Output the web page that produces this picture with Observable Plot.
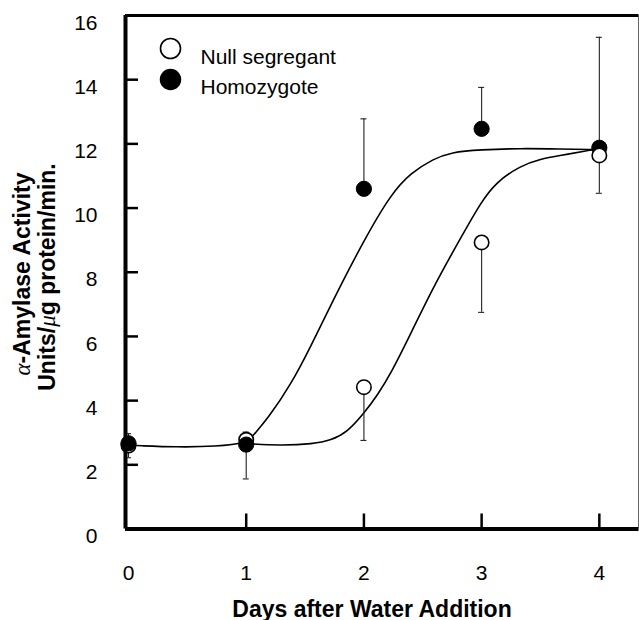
<!DOCTYPE html>
<html><head><meta charset="utf-8">
<script src="https://cdn.jsdelivr.net/npm/d3@7"></script>
<script src="https://cdn.jsdelivr.net/npm/@observablehq/plot@0.6"></script>
<style>
body{margin:0;background:#fff}
#chart{position:relative;width:639px;height:620px}
</style>
</head><body><div id="chart"></div>
<script>
// ---- data ----
const days = [0, 1, 2, 3, 4];
const nullMean   = [2.60, 2.78, 4.42, 8.93, 11.64];
const nullErrEnd = [2.22, 3.02, 2.76, 6.75, 10.46];
const homoMean   = [2.67, 2.63, 10.60, 12.47, 11.88];
const homoErrEnd = [2.97, 1.56, 12.78, 13.76, 15.32];

const homoCurveDay = [0.06, 0.42, 0.74, 1.01, 1.06, 1.18, 1.38, 1.55, 1.72, 2.00, 2.23, 2.40, 2.59, 2.74, 2.99, 3.33, 3.67, 3.96];
const homoCurveVal = [2.60, 2.55, 2.57, 2.68, 2.93, 3.42, 4.50, 5.70, 7.00, 9.00, 10.44, 11.10, 11.53, 11.74, 11.82, 11.86, 11.84, 11.82];
const nullCurveDay = [1.01, 1.29, 1.57, 1.72, 1.86, 2.00, 2.12, 2.23, 2.40, 2.59, 2.85, 2.99, 3.12, 3.33, 3.50, 3.67, 3.90, 3.96];
const nullCurveVal = [2.66, 2.60, 2.65, 2.76, 3.02, 3.60, 4.20, 4.85, 6.10, 7.55, 9.25, 10.15, 10.80, 11.32, 11.53, 11.64, 11.79, 11.82];

const xTicks = [0, 1, 2, 3, 4];
const yTicks = [0, 2, 4, 6, 8, 10, 12, 14, 16];
const yInnerTicks = [2, 4, 6, 8, 10, 12, 14];
const xInnerTicks = [1, 2, 3, 4];
const seriesNames = ["Null segregant", "Homozygote"];
const xTitle = "Days after Water Addition";
const yTitle1 = ["α", "-Amylase Activity"];
const yTitle2 = ["Units/", "μ", "g protein/min."];

// ---- build tables ----
const nullPts = days.map((d, i) => ({day: d, mean: nullMean[i], err: nullErrEnd[i]}));
const homoPts = days.map((d, i) => ({day: d, mean: homoMean[i], err: homoErrEnd[i]}));
const homoCurve = homoCurveDay.map((d, i) => ({day: d, v: homoCurveVal[i]}));
const nullCurve = nullCurveDay.map((d, i) => ({day: d, v: nullCurveVal[i]}));
const allPts = nullPts.concat(homoPts);

const W = 639, H = 620, ML = 125, MR = 0.5, MT = 15, MB = 91.5;
const plotW = W - ML - MR, plotH = H - MT - MB;
const FONT = "'Liberation Sans', Arial, Helvetica, sans-serif";
const fmt = d3.format("d");

const chart = Plot.plot({
  width: W, height: H,
  marginLeft: ML, marginRight: MR, marginTop: MT, marginBottom: MB,
  style: {fontFamily: FONT, fontSize: "21px", color: "#000", background: "#fff"},
  x: {domain: [-0.0255, 4.337]},
  y: {domain: [0, 16]},
  marks: [
    Plot.axisX({ticks: xTicks, tickFormat: fmt, tickSize: 0, tickPadding: 36, label: null, fontSize: 21}),
    Plot.axisY({ticks: yTicks, tickFormat: fmt, tickSize: 0, tickPadding: 28, dy: 7.5, label: null, fontSize: 21}),
    // inward ticks
    Plot.tickY(yInnerTicks, {y: d => d, insetRight: plotW - 13, stroke: "#000", strokeWidth: 2.5}),
    Plot.tickX(xInnerTicks, {x: d => d, insetTop: plotH - 15, stroke: "#000", strokeWidth: 2.5}),
    // fitted curves
    Plot.line(homoCurve, {x: "day", y: "v", curve: "basis", stroke: "#000", strokeWidth: 1.6}),
    Plot.line(nullCurve, {x: "day", y: "v", curve: "basis", stroke: "#000", strokeWidth: 1.6}),
    // error bars
    Plot.ruleX(allPts, {x: "day", y1: "mean", y2: "err", stroke: "#222", strokeWidth: 1.1}),
    Plot.ruleY(allPts, {y: "err", x1: "day", x2: "day", insetLeft: -3, insetRight: -3, stroke: "#222", strokeWidth: 1.1}),
    // points
    Plot.dot(nullPts.filter(d => d.day < 4), {x: "day", y: "mean", r: 7.2, fill: "#fff", stroke: "#000", strokeWidth: 1.6}),
    Plot.dot(homoPts, {x: "day", y: "mean", r: 7.6, fill: "#000", stroke: "#000", strokeWidth: 1}),
    Plot.dot(nullPts.filter(d => d.day === 4), {x: "day", y: "mean", r: 7.2, fill: "#fff", stroke: "#000", strokeWidth: 1.6}),
    // frame
    Plot.ruleX([-0.0255], {stroke: "#000", strokeWidth: 4}),
    Plot.ruleY([0], {stroke: "#000", strokeWidth: 4}),
    Plot.ruleY([16], {stroke: "#000", strokeWidth: 3}),
    Plot.ruleX([4.337], {stroke: "#333", strokeWidth: 1.5}),
    // legend
    Plot.dot([seriesNames[0]], {frameAnchor: "top-left", dx: 45, dy: 33, r: 10, fill: "#fff", stroke: "#000", strokeWidth: 1.6}),
    Plot.dot([seriesNames[1]], {frameAnchor: "top-left", dx: 45, dy: 64, r: 10, fill: "#000", stroke: "#000"}),
    Plot.text([seriesNames[0]], {text: d => d, frameAnchor: "top-left", dx: 75, dy: 34, textAnchor: "start", fontSize: 21, fill: "#000"}),
    Plot.text([seriesNames[1]], {text: d => d, frameAnchor: "top-left", dx: 75, dy: 64, textAnchor: "start", fontSize: 21, fill: "#000"})
  ]
});
document.getElementById("chart").appendChild(chart);

// axis titles
const svg = d3.select(chart);
svg.append("text")
  .attr("x", 372).attr("y", 616.5)
  .attr("text-anchor", "middle")
  .attr("font-family", FONT).attr("font-weight", "bold").attr("font-size", 23)
  .attr("fill", "#000")
  .text(xTitle);

const t1 = svg.append("text")
  .attr("transform", "translate(30,274) rotate(-90)")
  .attr("text-anchor", "middle")
  .attr("font-family", FONT).attr("font-weight", "bold").attr("font-size", 23).attr("fill", "#000");
t1.append("tspan").attr("font-family", "'Liberation Serif', 'DejaVu Serif', serif").attr("font-weight", "normal").attr("font-style", "italic").text(yTitle1[0]);
t1.append("tspan").text(yTitle1[1]);

const t2 = svg.append("text")
  .attr("transform", "translate(55,277) rotate(-90)")
  .attr("text-anchor", "middle")
  .attr("font-family", FONT).attr("font-weight", "bold").attr("font-size", 23).attr("fill", "#000");
t2.append("tspan").text(yTitle2[0]);
t2.append("tspan").attr("font-family", "'Liberation Serif', 'DejaVu Serif', serif").attr("font-weight", "normal").attr("font-style", "italic").text(yTitle2[1]);
t2.append("tspan").text(yTitle2[2]);
</script>
</body></html>
